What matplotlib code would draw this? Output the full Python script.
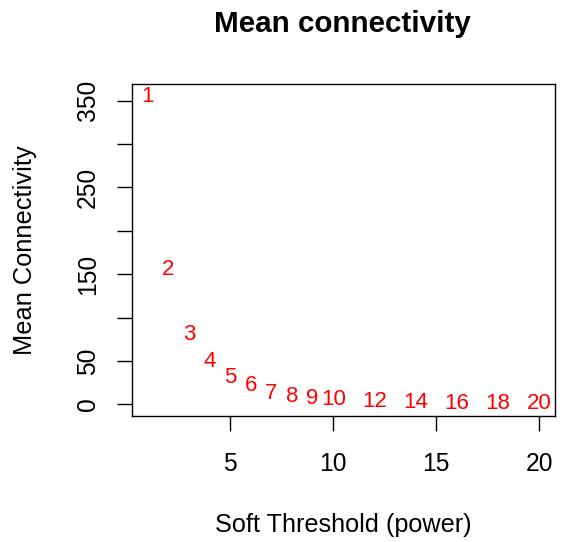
import matplotlib
matplotlib.use("Agg")
import matplotlib.pyplot as plt

plt.rcParams['font.family'] = ['Liberation Sans', 'DejaVu Sans']

# soft threshold powers and mean connectivity
powers = [1, 2, 3, 4, 5, 6, 7, 8, 9, 10, 12, 14, 16, 18, 20]
mean_k = [355, 155, 81, 49, 31.5, 21.5, 12.8, 8.8, 7.0, 5.7, 3.4, 2.0, 1.3, 1.0, 0.8]

y_ticks = [0, 50, 100, 150, 200, 250, 300, 350]
y_tick_labels = ['0', '50', '', '150', '', '250', '', '350']
x_ticks = [5, 10, 15, 20]

fig = plt.figure(figsize=(5.63, 5.42), dpi=100)
ax = fig.add_axes([132 / 563, 1 - 416 / 542, 423 / 563, 332 / 542])

for p, k in zip(powers, mean_k):
    ax.text(p, k, str(p), color='red', fontsize=16, ha='center', va='center')

# R style 4% padding around the data range
xr = max(powers) - min(powers)
yr = max(mean_k) - min(mean_k)
ax.set_xlim(min(powers) - 0.04 * xr, max(powers) + 0.04 * xr)
ax.set_ylim(min(mean_k) - 0.04 * yr, max(mean_k) + 0.04 * yr)

ax.set_xticks(x_ticks)
ax.set_yticks(y_ticks)
ax.set_yticklabels(y_tick_labels, rotation=90, va='center')
ax.tick_params(axis='both', direction='out', length=11, width=1.0, labelsize=17.7)
ax.tick_params(axis='x', pad=15)
ax.tick_params(axis='y', pad=12)
for s in ax.spines.values():
    s.set_linewidth(1.0)

fig.text(342.5 / 563, 1 - 24 / 542, 'Mean connectivity', fontsize=21.3, fontweight='bold',
         ha='center', va='center')
fig.text(343 / 563, 1 - 525 / 542, 'Soft Threshold (power)', fontsize=18.2,
         ha='center', va='center')
fig.text(25 / 563, 1 - 250 / 542, 'Mean Connectivity', fontsize=18.3, rotation=90,
         ha='center', va='center')

fig.savefig('out.png', dpi=100)
